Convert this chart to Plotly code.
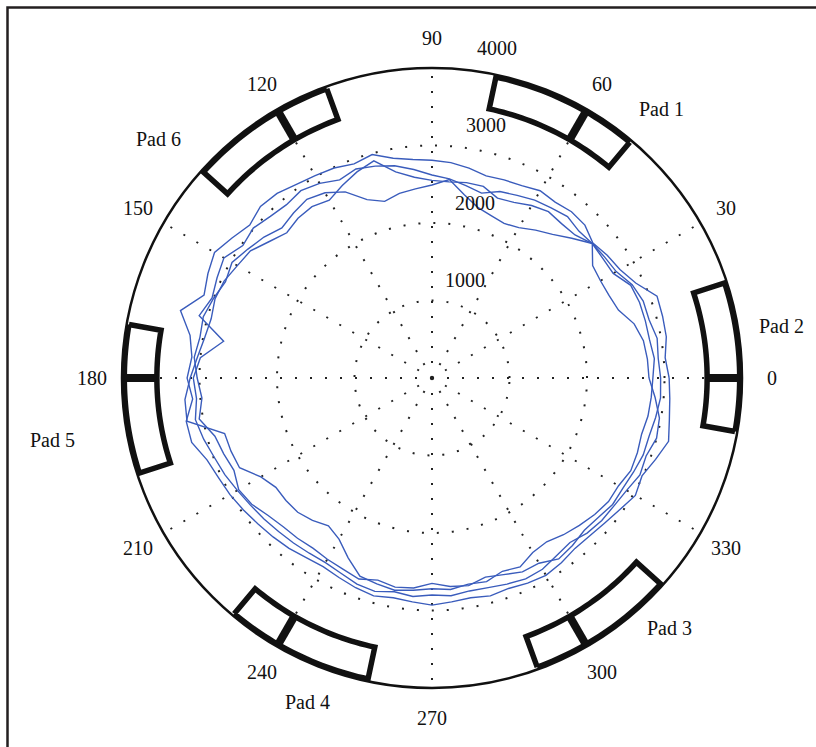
import plotly.graph_objects as go
import math

W, H = 816, 747
CX, CY, R = 432, 378, 310

# ---- data: radius (units) of each measured loop at these angles (deg) ----
theta_deg = list(range(0, 360, 5))

loop_a = [3060, 3020, 3070, 3080, 3090, 2900, 2800, 2760, 2710, 2790, 2800, 2770,
          2790, 2740, 2720, 2700, 2750, 2790, 2810, 2830, 2880, 2985, 2940, 2990,
          3015, 3050, 3110, 3130, 3070, 3150, 3240, 3190, 3130, 3360, 3170, 3110,
          3160, 3100, 3220, 3210, 3090, 3040, 3010, 2970, 2930, 2900, 2870, 2830,
          2810, 2840, 2880, 2910, 2880, 2900, 2930, 2900, 2880, 2910, 2890, 2920,
          2940, 2910, 2870, 2880, 2910, 2960, 3030, 2990, 3070, 3160, 3110, 3080]
loop_b = [2800, 2790, 2770, 2700, 2560, 2520, 2510, 2530, 2700, 2680, 2720, 2680,
          2650, 2600, 2560, 2470, 2520, 2580, 2620, 2700, 2780, 2830, 2870, 2820,
          2900, 2950, 2920, 2950, 3010, 2980, 3100, 3060, 3020, 3110, 2730, 3000,
          3080, 3050, 3100, 3050, 2990, 2950, 2900, 2860, 2830, 2800, 2780, 2760,
          2750, 2780, 2830, 2850, 2800, 2830, 2800, 2820, 2790, 2800, 2830, 2860,
          2850, 2800, 2770, 2830, 2860, 2870, 2900, 2960, 2940, 3000, 2980, 2890]
loop_c = [2950, 2930, 2950, 2900, 2900, 2850, 2745, 2720, 2700, 2550, 2420, 2330,
          2240, 2200, 2230, 2280, 2400, 2570, 2490, 2450, 2420, 2360, 2450, 2650,
          2760, 2815, 2780, 2740, 2830, 2900, 2980, 2940, 3000, 3055, 3040, 3080,
          3030, 2980, 3050, 2900, 2860, 2820, 2880, 2840, 2760, 2715, 2700, 2680,
          2700, 2720, 2760, 2700, 2740, 2720, 2650, 2700, 2720, 2660, 2700, 2760,
          2760, 2850, 2820, 2780, 2800, 2845, 2845, 2870, 2900, 2900, 2930, 2960]
loop_d = [2850, 2880, 2850, 2850, 2850, 2830, 2700, 2690, 2700, 2610, 2600, 2620,
          2570, 2500, 2470, 2560, 2560, 2540, 2550, 2600, 2700, 2900, 2830, 2740,
          2650, 2700, 2690, 2650, 2740, 2860, 2900, 2960, 2980, 2950, 2980, 3040,
          3120, 3200, 3210, 2770, 2760, 2740, 2550, 2460, 2460, 2450, 2400, 2330,
          2400, 2560, 2720, 2750, 2780, 2750, 2720, 2740, 2700, 2720, 2654, 2690,
          2600, 2580, 2640, 2690, 2740, 2780, 2780, 2830, 2820, 2800, 2830, 2840]
loops = [loop_a, loop_b, loop_c, loop_d]

radial_ticks = [1000, 2000, 3000]
radial_max = 4000
angle_ticks = list(range(0, 360, 30))

pad_names = ["Pad 1", "Pad 2", "Pad 3", "Pad 4", "Pad 5", "Pad 6"]
pad_pivots = [60, 0, 300, 240, 180, 120]
pad_lead, pad_trail = -10, 18
pad_r_in, pad_r_out = 3550, 3970

# label positions (pixels)
pad_label_px = [(661, 109), (781, 326), (669, 628), (307, 702), (52, 440), (158, 139)]
radial_label_px = [(465, 280), (475, 203), (486, 125), (497, 48)]

fig = go.Figure()

for rv in loops:
    fig.add_trace(go.Scatterpolar(
        r=rv + [rv[0]], theta=theta_deg + [theta_deg[0]], mode="lines",
        line=dict(color="#3a5cbc", width=1.4), showlegend=False, hoverinfo="skip"))

for p in pad_pivots:
    th_out = [p + a for a in range(pad_lead, pad_trail + 1)]
    th = th_out + th_out[::-1] + [th_out[0]]
    rr = [pad_r_out] * len(th_out) + [pad_r_in] * len(th_out) + [pad_r_out]
    fig.add_trace(go.Scatterpolar(
        r=rr, theta=th, mode="lines", line=dict(color="#111111", width=5.5),
        cliponaxis=False, showlegend=False, hoverinfo="skip"))
    fig.add_trace(go.Scatterpolar(
        r=[pad_r_in, pad_r_out], theta=[p, p], mode="lines",
        line=dict(color="#111111", width=8),
        cliponaxis=False, showlegend=False, hoverinfo="skip"))

font = dict(family="Liberation Serif, Times New Roman, serif", size=20, color="#111111")
ann = []
for a in angle_ticks:
    x = CX + 340 * math.cos(math.radians(a))
    y = CY - 340 * math.sin(math.radians(a))
    ann.append(dict(x=x / W, y=1 - y / H, xref="paper", yref="paper", text=str(a),
                    showarrow=False, font=font, xanchor="center", yanchor="middle"))
for v, (x, y) in zip(radial_ticks + [radial_max], radial_label_px):
    ann.append(dict(x=x / W, y=1 - y / H, xref="paper", yref="paper", text=str(v),
                    showarrow=False, font=font, xanchor="center", yanchor="middle"))
for name, (x, y) in zip(pad_names, pad_label_px):
    ann.append(dict(x=x / W, y=1 - y / H, xref="paper", yref="paper", text=name,
                    showarrow=False, font=font, xanchor="center", yanchor="middle"))

fig.update_layout(
    width=W, height=H, margin=dict(l=0, r=0, t=0, b=0),
    paper_bgcolor="white", plot_bgcolor="white",
    annotations=ann,
    shapes=[dict(type="rect", xref="paper", yref="paper",
                 x0=7.5 / W, y0=-0.05, x1=1.05, y1=1 - 7.5 / H,
                 line=dict(color="#231f20", width=2.5))],
    polar=dict(
        domain=dict(x=[(CX - R) / W, (CX + R) / W], y=[1 - (CY + R) / H, 1 - (CY - R) / H]),
        bgcolor="white",
        radialaxis=dict(range=[0, radial_max], tickvals=radial_ticks, showticklabels=False,
                        ticks="", showline=False, gridcolor="#222222", gridwidth=2,
                        griddash="2px,13px"),
        angularaxis=dict(tickvals=angle_ticks, showticklabels=False, ticks="",
                         direction="counterclockwise", rotation=0,
                         gridcolor="#222222", gridwidth=2, griddash="2px,13px",
                         showline=True, linecolor="#111111", linewidth=2.5),
    ),
)

fig.write_html("out.html")
